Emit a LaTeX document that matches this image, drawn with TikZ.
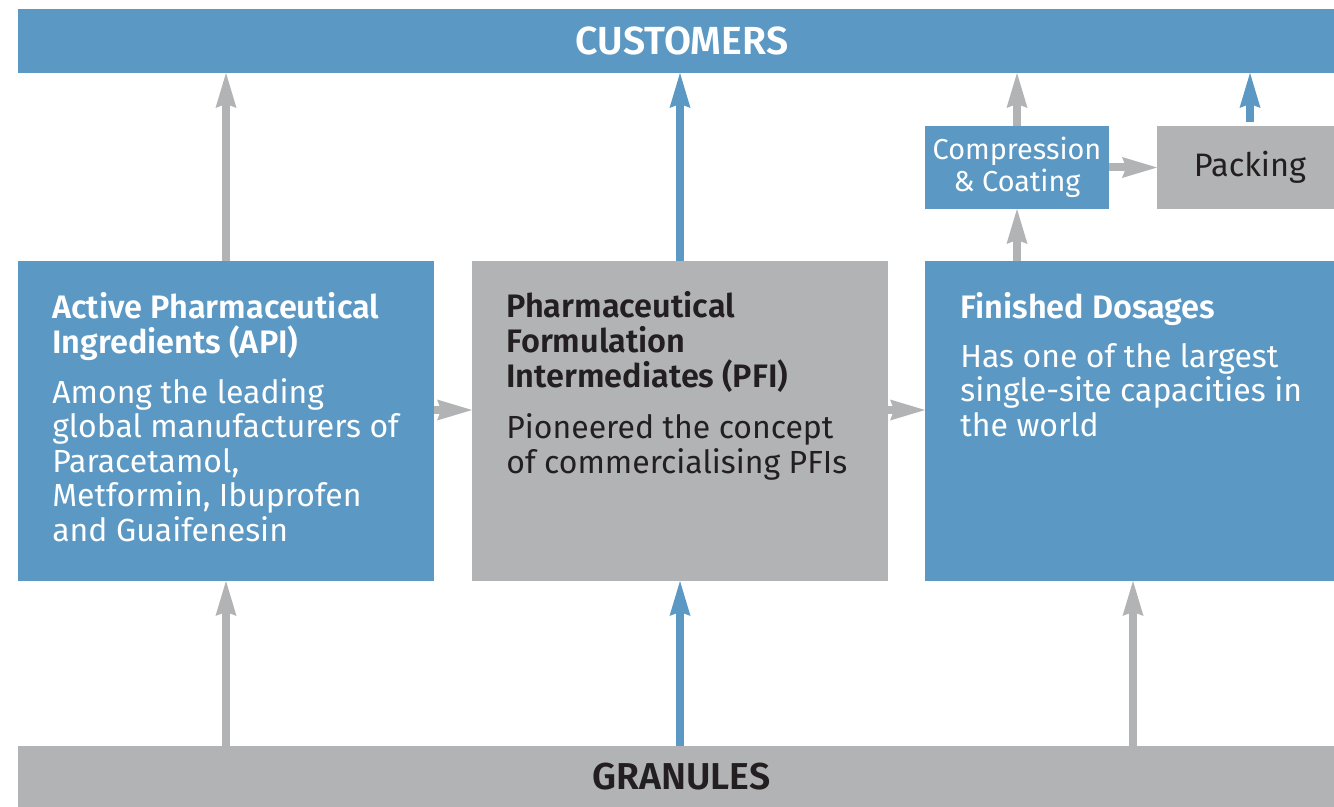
\documentclass[tikz,border=0pt]{standalone}
\usepackage{fontspec}
\setmainfont{Fira Sans}[BoldFont={Fira Sans SemiBold}]
\usepackage{xcolor}
\usepackage{tikz}
\usetikzlibrary{arrows.meta}

\definecolor{boxblue}{HTML}{5B98C3}
\definecolor{boxgray}{HTML}{B2B3B5}
\definecolor{inkdark}{HTML}{231F20}

\tikzset{
  bluebox/.style={fill=boxblue, inner sep=0pt, outer sep=0pt},
  graybox/.style={fill=boxgray, inner sep=0pt, outer sep=0pt},
  garrow/.style={draw=boxgray, line width=0.16cm,
    -{Stealth[length=0.7cm, width=0.42cm, inset=0.08cm, line width=0pt]}},
  barrow/.style={garrow, draw=boxblue},
  head/.style={font=\fontsize{18.5}{19.8}\selectfont\bfseries, align=left, inner sep=0pt,
    anchor=north west, execute at begin node=\rule{0pt}{15pt}},
  body/.style={font=\fontsize{18.2}{19.6}\selectfont, align=left, inner sep=0pt,
    anchor=north west, execute at begin node=\rule{0pt}{15pt}},
  bartext/.style={font=\fontsize{#1}{24}\selectfont\bfseries, inner sep=0pt}
}

\begin{document}
\begin{tikzpicture}[x=0.02cm, y=-0.02cm]
\useasboundingbox (0,0) rectangle (1334,807);

% bars
\node[bluebox, minimum width=26.32cm, minimum height=1.28cm] (cust) at (676,41) {};
\node[graybox, minimum width=26.32cm, minimum height=1.22cm] (gran) at (676,776.5) {};
\node[bartext=22.3, text=white] (custlbl) at (682,41) {CUSTOMERS};
\node[bartext=21.3, text=inkdark] (granlbl) at (681.5,776.5) {GRANULES};

% main boxes
\node[bluebox, minimum width=8.32cm, minimum height=6.4cm] (api) at (226,421) {};
\node[graybox, minimum width=8.32cm, minimum height=6.4cm] (pfi) at (680,421) {};
\node[bluebox, minimum width=8.18cm, minimum height=6.4cm] (fd) at (1129.5,421) {};

% small boxes
\node[bluebox, text=white, font=\fontsize{16.4}{18}\selectfont, align=center,
      minimum width=3.68cm, minimum height=1.66cm] (comp) at (1017,167.5) {Compression\\\& Coating};
\node[graybox, minimum width=3.54cm, minimum height=1.66cm] (pack) at (1245.5,167.5) {};
\node[text=inkdark, font=\fontsize{18.5}{19}\selectfont, inner sep=0pt] (packlbl) at (1250,167.5) {Packing};

% texts
\node[head, text=white] (apih) at (52,292) {Active Pharmaceutical\\Ingredients (API)};
\node[body, text=white] (apib) at (52,378) {Among the leading\\global manufacturers of\\Paracetamol,\\Metformin, Ibuprofen\\and Guaifenesin};

\node[head, text=inkdark] (pfih) at (506,291.5) {Pharmaceutical\\Formulation\\Intermediates (PFI)};
\node[body, text=inkdark] (pfib) at (506,413.5) {Pioneered the concept\\of commercialising PFIs};

\node[head, text=white] (fdh) at (960,292) {Finished Dosages};
\node[body, text=white] (fdb) at (960,343) {Has one of the largest\\single-site capacities in\\the world};

% arrows up to customers
\draw[garrow] (api.north) -- (api.north |- cust.south);
\draw[barrow] (pfi.north) -- (pfi.north |- cust.south);
\draw[garrow] (comp.north) -- (comp.north |- cust.south);
\coordinate (packout) at (1250,122);
\draw[barrow] (packout) -- (packout |- cust.south);

% arrows between boxes
\draw[garrow] (comp.south |- fd.north) -- (comp.south);
\draw[garrow] (comp.east) -- (pack.west);
\draw[garrow] (api.east |- 0,410) -- (pfi.west |- 0,410);
\draw[garrow] (pfi.east |- 0,410) -- (fd.west |- 0,410);

% arrows from granules
\draw[garrow] (api.south |- gran.north) -- (api.south);
\draw[barrow] (pfi.south |- gran.north) -- (pfi.south);
\draw[garrow] (gran.north -| 1133,0) -- (fd.south -| 1133,0);

\end{tikzpicture}
\end{document}
